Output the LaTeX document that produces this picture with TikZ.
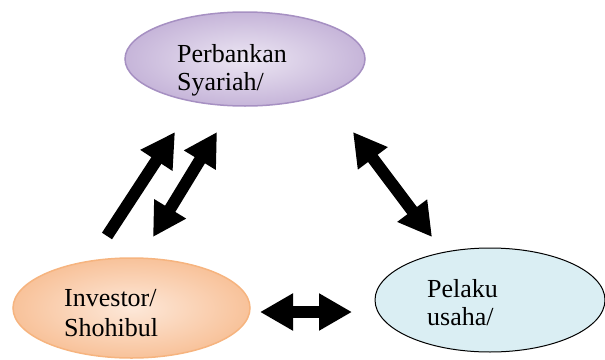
\documentclass[tikz,border=0pt]{standalone}
\usepackage{fontspec}
\setmainfont{Liberation Serif}
\usetikzlibrary{shapes.geometric,arrows.meta}
\definecolor{bankedge}{HTML}{A690C2}
\definecolor{bankin}{HTML}{ECE6F3}
\definecolor{bankout}{HTML}{C6B5D9}
\definecolor{invedge}{HTML}{F6B47F}
\definecolor{invin}{HTML}{FDE8D9}
\definecolor{invout}{HTML}{F8C29A}
\definecolor{pelfill}{HTML}{DAEEF3}
\tikzset{
  oval/.style={ellipse, inner sep=0pt, line width=1.5pt},
  lbl/.style={anchor=base west, inner sep=0pt, font=\fontsize{26}{28}\selectfont},
  blk/.style={line width=12pt, line cap=butt, -{Triangle[length=34pt,width=36pt]}},
  blkboth/.style={line width=12pt, line cap=butt, {Triangle[length=33pt,width=35pt]}-{Triangle[length=33pt,width=35pt]}}
}
\begin{document}
\begin{tikzpicture}[x=1pt,y=-1pt]
\useasboundingbox (0,0) rectangle (605,359);
\node[oval, draw=bankedge, inner color=bankin, outer color=bankout, minimum width=240pt, minimum height=94pt] (bank) at (245,59) {};
\node[oval, draw=invedge, inner color=invin, outer color=invout, minimum width=237pt, minimum height=100pt] (inv) at (131.5,308) {};
\node[oval, draw=black, line width=1pt, fill=pelfill, minimum width=230pt, minimum height=104pt] (pel) at (490,300) {};
\node[lbl] (bank1) at (177,62) {Perbankan};
\node[lbl] (bank2) at (177,90) {Syariah/};
\node[lbl] (inv1) at (64,306) {Investor/};
\node[lbl] (inv2) at (64,336) {Shohibul};
\node[lbl] (pel1) at (427,297) {Pelaku};
\node[lbl] (pel2) at (427,325) {usaha/};
\coordinate (a1s) at (107,236);
\coordinate (a1e) at (175,132);
\coordinate (a2s) at (153,237);
\coordinate (a2e) at (217,132);
\coordinate (a3s) at (353,132);
\coordinate (a3e) at (432,237);
\coordinate (a4s) at (260,312);
\coordinate (a4e) at (352,312);
\draw[blk] (a1s) -- (a1e);
\draw[blkboth] (a2s) -- (a2e);
\draw[blkboth] (a3s) -- (a3e);
\draw[blkboth] (a4s) -- (a4e);
\end{tikzpicture}
\end{document}
